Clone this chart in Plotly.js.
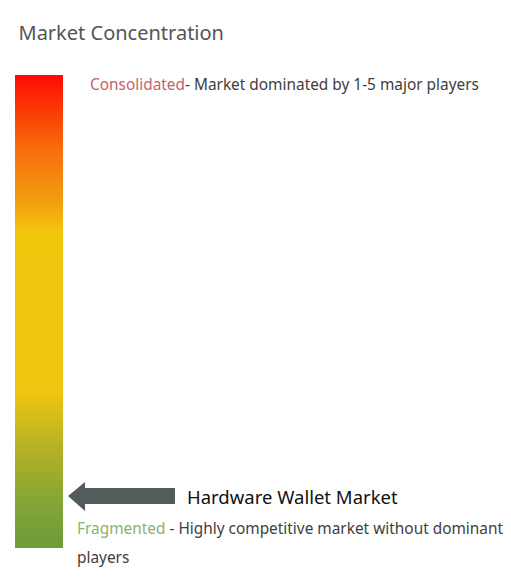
<!DOCTYPE html>
<html>
<head>
<meta charset="utf-8">
<script src="https://cdn.plot.ly/plotly-3.0.1.min.js"></script>
<style>html,body{margin:0;padding:0;background:#fff;}#chart{width:511px;height:580px;}</style>
</head>
<body>
<div id="chart"></div>
<script>
// Concentration scale (0 = fragmented, 100 = consolidated)
const concentrationLevels = [0, 10, 20, 30, 40, 50, 60, 70, 80, 90, 100];
const scaleLabels = ["Consolidated", "Fragmented"];
const scaleDescriptions = ["- Market dominated by 1-5 major players", " - Highly competitive market without dominant", "players"];
const marketName = "Hardware Wallet Market";
const marketLevel = [11];
const chartTitle = "Market Concentration";

const W = 511, H = 580;
const px = v => v / W;
const py = v => 1 - v / H;

const barTop = 75, barBottom = 548;
const heat = {
  type: 'heatmap',
  x: [0, 1],
  y: concentrationLevels,
  z: concentrationLevels.map(v => [v, v]),
  zmin: 0, zmax: 100,
  zsmooth: 'best',
  showscale: false,
  hoverinfo: 'skip',
  colorscale: [
    [0, '#6A9D3A'],
    [0.1, '#86A535'],
    [0.22, '#B8B324'],
    [0.33, '#F0C50F'],
    [0.67, '#F3C60E'],
    [0.73, '#F2A00F'],
    [0.85, '#F86A0C'],
    [1, '#FF0A00']
  ]
};

const levelToPx = l => barBottom - (l / 100) * (barBottom - barTop);
const ay = levelToPx(marketLevel[0]);
const arrowPath = `M ${px(68)} ${py(ay)} L ${px(85)} ${py(ay - 14)} L ${px(85)} ${py(ay - 8)} L ${px(175)} ${py(ay - 8)} L ${px(175)} ${py(ay + 8)} L ${px(85)} ${py(ay + 8)} L ${px(85)} ${py(ay + 15)} Z`;

const font = "'Noto Sans', 'Open Sans', sans-serif";
const layout = {
  width: W, height: H,
  margin: {l: 0, r: 0, t: 0, b: 0},
  paper_bgcolor: '#fff', plot_bgcolor: '#fff',
  showlegend: false,
  title: {text: chartTitle, x: px(18.5), xanchor: 'left', xref: 'paper', y: py(33), yanchor: 'middle', yref: 'container',
          font: {family: font, size: 20, color: '#555555'}},
  xaxis: {domain: [px(15), px(63)], range: [0, 1], visible: false, fixedrange: true},
  yaxis: {domain: [py(barBottom), py(barTop)], range: [0, 100], visible: false, fixedrange: true},
  shapes: [{type: 'path', xref: 'paper', yref: 'paper', path: arrowPath, fillcolor: '#525C5C', line: {width: 0}}],
  annotations: [
    {xref: 'paper', yref: 'paper', x: px(87.5), y: py(84), xanchor: 'left', yanchor: 'middle', showarrow: false, align: 'left',
     text: `<span style="color:#C4626C">${scaleLabels[0]}</span>${scaleDescriptions[0]}`,
     font: {family: font, size: 15.4, color: '#404040'}},
    {xref: 'paper', yref: 'paper', x: px(185), y: py(ay + 1), xanchor: 'left', yanchor: 'middle', showarrow: false,
     text: marketName, font: {family: font, size: 18.5, color: '#111111'}},
    {xref: 'paper', yref: 'paper', x: px(75), y: py(528), xanchor: 'left', yanchor: 'middle', showarrow: false, align: 'left',
     text: `<span style="color:#8DB36A">${scaleLabels[1]}</span>${scaleDescriptions[1]}`,
     font: {family: font, size: 15.4, color: '#404040'}},
    {xref: 'paper', yref: 'paper', x: px(75), y: py(557), xanchor: 'left', yanchor: 'middle', showarrow: false, align: 'left',
     text: scaleDescriptions[2],
     font: {family: font, size: 15.4, color: '#404040'}}
  ]
};

Plotly.newPlot('chart', [heat], layout, {displayModeBar: false, staticPlot: true});
</script>
</body>
</html>
